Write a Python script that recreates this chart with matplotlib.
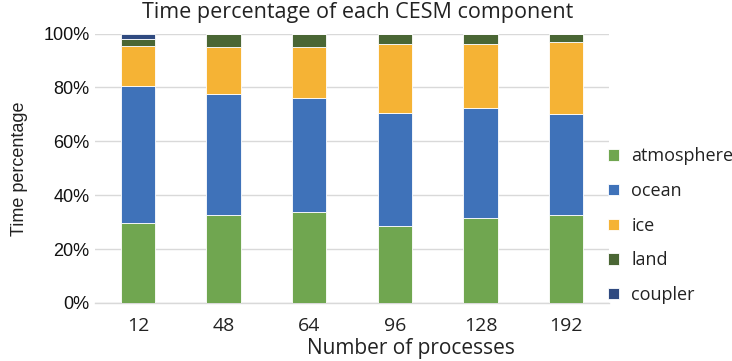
import matplotlib
matplotlib.use("Agg")
import matplotlib.pyplot as plt
import numpy as np

processes = ["12", "48", "64", "96", "128", "192"]
components = ["atmosphere", "ocean", "ice", "land", "coupler"]

# Share of run time per component (fraction of total, stacked bottom to top)
atmosphere = [0.295, 0.327, 0.337, 0.286, 0.316, 0.325]
ocean = [0.510, 0.447, 0.423, 0.418, 0.406, 0.378]
ice = [0.148, 0.175, 0.189, 0.256, 0.238, 0.264]
land = [0.025, 0.051, 0.051, 0.040, 0.040, 0.033]
coupler = [0.022, 0.000, 0.000, 0.000, 0.000, 0.000]

colors = ["#70A650", "#3F72B9", "#F5B335", "#4A6634", "#2F4A80"]
series = [atmosphere, ocean, ice, land, coupler]

fig = plt.figure(figsize=(7.32, 3.61), dpi=100)
ax = fig.add_axes([0.130, 0.161, 0.702, 0.746])

x = np.arange(len(processes))
bottom = np.zeros(len(processes))
for name, vals, col in zip(components, series, colors):
    vals = np.array(vals)
    ax.bar(x, vals, 0.4, bottom=bottom, color=col, label=name,
           edgecolor="#ffffff", linewidth=0.6, zorder=3)
    bottom += vals

ax.set_xlim(-0.5, len(processes) - 0.5)
ax.set_ylim(0, 1.0)
yt = np.arange(0, 1.01, 0.2)
ax.set_yticks(yt)
ax.set_yticklabels([f"{int(round(v * 100))}%" for v in yt],
                   fontfamily="Liberation Sans", fontsize=13, color="#111111")
ax.set_xticks(x)
ax.set_xticklabels(processes, fontfamily="Open Sans", fontsize=14, color="#222222")
ax.tick_params(axis="y", length=0, pad=4)
ax.tick_params(axis="x", length=0, pad=10)
ax.grid(axis="y", color="#d9d9d9", linewidth=1.0, zorder=0)
for s in ["top", "right", "left"]:
    ax.spines[s].set_visible(False)
ax.spines["bottom"].set_color("#d9d9d9")
ax.spines["bottom"].set_linewidth(1.0)

fig.text(0.488, 0.965, "Time percentage of each CESM component",
         ha="center", va="center", fontfamily="Open Sans", fontsize=15.5, color="#222222")
fig.text(0.562, 0.036, "Number of processes",
         ha="center", va="center", fontfamily="Open Sans", fontsize=15, color="#222222")
fig.text(0.027, 0.532, "Time percentage", rotation=90,
         ha="center", va="center", fontfamily="Liberation Sans", fontsize=13, color="#222222")

leg = fig.legend(loc="center left", bbox_to_anchor=(0.808, 0.375), frameon=False,
                 prop={"family": "Open Sans", "size": 13},
                 handlelength=0.6, handleheight=0.6, handletextpad=0.7,
                 labelspacing=0.92)
for t in leg.get_texts():
    t.set_color("#222222")

fig.savefig("out.png", dpi=100)
